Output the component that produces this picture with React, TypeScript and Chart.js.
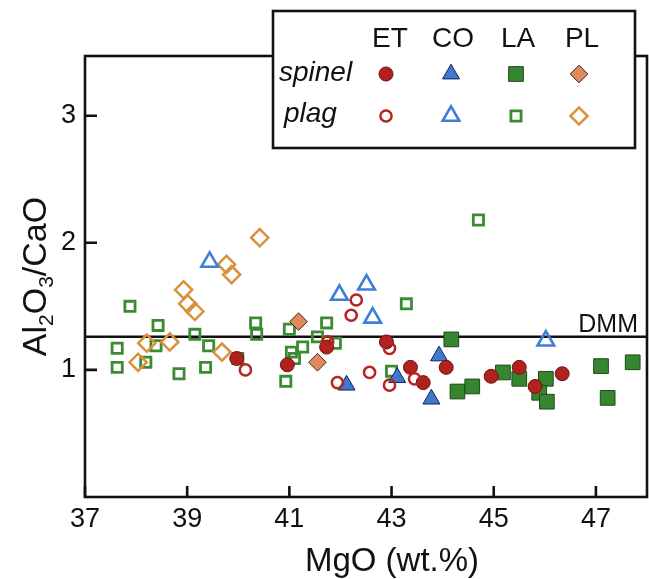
import React, { useEffect, useRef } from 'react';
import { Chart, registerables } from 'chart.js';

Chart.register(...registerables);

const FONT = "'Liberation Sans', Arial, Helvetica, sans-serif";

// ---- axes ----
const X_TICKS = [37, 39, 41, 43, 45, 47];
const Y_TICKS = [1, 2, 3];
const X_MIN = 37;
const X_MAX = 48;
const Y_MIN = 0;
const Y_MAX = 3.47;
const DMM_VALUE = 1.26;
const X_TITLE = 'MgO (wt.%)';

// ---- legend ----
const GROUPS = ['ET', 'CO', 'LA', 'PL'];
const ROWS = ['spinel', 'plag'];

// ---- data (MgO wt.% , Al2O3/CaO) ----
const etSpinelX = [39.97, 40.96, 41.73, 42.9, 43.37, 43.62, 44.07, 44.95, 45.5, 45.81, 46.34];
const etSpinelY = [1.09, 1.04, 1.18, 1.22, 1.02, 0.9, 1.02, 0.95, 1.02, 0.87, 0.97];

const etPlagX = [40.14, 41.75, 41.94, 42.21, 42.31, 42.57, 42.96, 42.96, 43.45];
const etPlagY = [1.0, 1.22, 0.9, 1.43, 1.55, 0.98, 1.17, 0.88, 0.93];

const coSpinelX = [42.12, 43.11, 43.93, 43.78];
const coSpinelY = [0.88, 0.94, 1.11, 0.77];

const coPlagX = [39.44, 41.98, 42.51, 42.63, 46.02];
const coPlagY = [1.85, 1.59, 1.67, 1.41, 1.23];

const laSpinelX = [44.17, 44.29, 44.58, 45.18, 45.5, 46.02, 45.89, 46.04, 47.1, 47.72, 47.23];
const laSpinelY = [1.24, 0.83, 0.87, 0.98, 0.93, 0.93, 0.82, 0.75, 1.03, 1.06, 0.78];

const laPlagX = [37.63, 37.63, 37.88, 38.43, 38.39, 38.19, 38.84, 39.15, 39.42, 39.36, 39.99, 40.34, 40.36, 41.0, 41.73, 41.55, 41.9, 41.04, 41.26, 41.1, 40.93, 43.29, 44.7, 43.0];
const laPlagY = [1.17, 1.02, 1.5, 1.35, 1.19, 1.06, 0.97, 1.28, 1.19, 1.02, 1.09, 1.37, 1.28, 1.32, 1.37, 1.26, 1.21, 1.14, 1.18, 1.09, 0.91, 1.52, 2.18, 0.99];

const plSpinelX = [41.18, 41.55];
const plSpinelY = [1.38, 1.06];

const plPlagX = [40.42, 39.77, 39.87, 38.93, 39.01, 39.15, 38.21, 38.66, 38.04, 39.68];
const plPlagY = [2.04, 1.83, 1.75, 1.63, 1.52, 1.46, 1.21, 1.22, 1.06, 1.14];

type Series = {
  label: string;
  group: number;
  row: number;
  xs: number[];
  ys: number[];
  style: 'circle' | 'triangle' | 'rect' | 'rectRot';
  filled: boolean;
  color: string;
  border: string;
  radius: number;
  bw: number;
};

// listed bottom -> top in drawing order
const SERIES: Series[] = [
  { label: 'LA plag', group: 2, row: 1, xs: laPlagX, ys: laPlagY, style: 'rect', filled: false, color: '#3c8b34', border: '#3c8b34', radius: 7.2, bw: 2.8 },
  { label: 'PL plag', group: 3, row: 1, xs: plPlagX, ys: plPlagY, style: 'rectRot', filled: false, color: '#da913c', border: '#da913c', radius: 8.6, bw: 2.5 },
  { label: 'CO plag', group: 1, row: 1, xs: coPlagX, ys: coPlagY, style: 'triangle', filled: false, color: '#3f7ddb', border: '#3f7ddb', radius: 9.6, bw: 2.6 },
  { label: 'LA spinel', group: 2, row: 0, xs: laSpinelX, ys: laSpinelY, style: 'rect', filled: true, color: '#37862f', border: '#1e4a19', radius: 10.4, bw: 1 },
  { label: 'PL spinel', group: 3, row: 0, xs: plSpinelX, ys: plSpinelY, style: 'rectRot', filled: true, color: '#e0895a', border: '#3b2a22', radius: 8.8, bw: 1 },
  { label: 'CO spinel', group: 1, row: 0, xs: coSpinelX, ys: coSpinelY, style: 'triangle', filled: true, color: '#3f77d3', border: '#132550', radius: 9.8, bw: 1 },
  { label: 'ET spinel', group: 0, row: 0, xs: etSpinelX, ys: etSpinelY, style: 'circle', filled: true, color: '#b1211e', border: '#701212', radius: 7, bw: 1 },
  { label: 'ET plag', group: 0, row: 1, xs: etPlagX, ys: etPlagY, style: 'circle', filled: false, color: '#b52420', border: '#b52420', radius: 5.6, bw: 2.5 },
];

function drawMarker(ctx: CanvasRenderingContext2D, s: Series, x: number, y: number) {
  const r = s.radius;
  ctx.beginPath();
  if (s.style === 'circle') {
    ctx.arc(x, y, r, 0, Math.PI * 2);
  } else if (s.style === 'rect') {
    const h = r * Math.SQRT1_2;
    ctx.rect(x - h, y - h, 2 * h, 2 * h);
  } else if (s.style === 'triangle') {
    const a = (2 * Math.PI) / 3;
    ctx.moveTo(x, y - r);
    ctx.lineTo(x + Math.sin(a) * r, y - Math.cos(a) * r);
    ctx.lineTo(x + Math.sin(2 * a) * r, y - Math.cos(2 * a) * r);
    ctx.closePath();
  } else {
    ctx.moveTo(x - r, y);
    ctx.lineTo(x, y - r);
    ctx.lineTo(x + r, y);
    ctx.lineTo(x, y + r);
    ctx.closePath();
  }
  if (s.filled) {
    ctx.fillStyle = s.color;
    ctx.fill();
  }
  ctx.lineWidth = s.bw;
  ctx.strokeStyle = s.border;
  ctx.stroke();
}

const decorPlugin = {
  id: 'decor',
  beforeDatasetsDraw(chart: any) {
    const { ctx, chartArea } = chart;
    const ys = chart.scales.y;
    const yy = ys.getPixelForValue(DMM_VALUE);
    ctx.save();
    ctx.strokeStyle = '#111';
    ctx.lineWidth = 2.5;
    ctx.beginPath();
    ctx.moveTo(chartArea.left, yy);
    ctx.lineTo(chartArea.right, yy);
    ctx.stroke();
    ctx.fillStyle = '#111';
    ctx.font = `25px ${FONT}`;
    ctx.textAlign = 'right';
    ctx.textBaseline = 'alphabetic';
    ctx.fillText('DMM', chartArea.right - 9, yy - 5);
    ctx.restore();
  },
  afterDatasetsDraw(chart: any) {
    const { ctx, chartArea } = chart;
    const xs = chart.scales.x;
    const ys = chart.scales.y;
    ctx.save();
    ctx.strokeStyle = '#111';
    ctx.lineWidth = 2.6;
    ctx.strokeRect(chartArea.left, chartArea.top, chartArea.right - chartArea.left, chartArea.bottom - chartArea.top);
    ctx.beginPath();
    for (const v of X_TICKS) {
      const px = xs.getPixelForValue(v);
      ctx.moveTo(px, chartArea.bottom);
      ctx.lineTo(px, chartArea.bottom - 11);
    }
    for (const v of Y_TICKS) {
      const py = ys.getPixelForValue(v);
      ctx.moveTo(chartArea.left, py);
      ctx.lineTo(chartArea.left + 12, py);
    }
    ctx.stroke();

    // x axis title
    ctx.fillStyle = '#111';
    ctx.font = `33px ${FONT}`;
    ctx.textAlign = 'center';
    ctx.textBaseline = 'alphabetic';
    ctx.fillText(X_TITLE, 392, 571);

    // y axis title with subscripts
    const parts: [string, boolean][] = [['Al', false], ['2', true], ['O', false], ['3', true], ['/CaO', false]];
    const big = `34px ${FONT}`;
    const small = `21px ${FONT}`;
    let total = 0;
    for (const [t, sub] of parts) {
      ctx.font = sub ? small : big;
      total += ctx.measureText(t).width;
    }
    ctx.translate(34, (chartArea.top + chartArea.bottom) / 2);
    ctx.rotate(-Math.PI / 2);
    ctx.textAlign = 'left';
    let x = -total / 2;
    for (const [t, sub] of parts) {
      ctx.font = sub ? small : big;
      ctx.fillText(t, x, sub ? 19 : 12);
      x += ctx.measureText(t).width;
    }
    ctx.restore();
  },
  afterDraw(chart: any) {
    const { ctx } = chart;
    ctx.save();
    // legend box
    const bx = 273, by = 11, bw = 362, bh = 137;
    ctx.fillStyle = '#fff';
    ctx.fillRect(bx, by, bw, bh);
    ctx.strokeStyle = '#111';
    ctx.lineWidth = 2.6;
    ctx.strokeRect(bx, by, bw, bh);
    const colX = [386, 451, 516, 579];
    const rowY = [74, 116];
    ctx.fillStyle = '#111';
    ctx.font = `28px ${FONT}`;
    ctx.textAlign = 'center';
    ctx.textBaseline = 'alphabetic';
    const headX = [390, 453, 518, 582];
    GROUPS.forEach((g, i) => ctx.fillText(g, headX[i], 47));
    ctx.font = `italic 28px ${FONT}`;
    ctx.textAlign = 'left';
    ctx.fillText(ROWS[0], 279, 81);
    ctx.fillText(ROWS[1], 284, 122);
    for (const s of SERIES) {
      drawMarker(ctx, s, colX[s.group], rowY[s.row]);
    }
    ctx.restore();
  },
};

export default function App() {
  const ref = useRef<HTMLCanvasElement>(null);
  useEffect(() => {
    document.body.style.margin = '0';
    const canvas = ref.current;
    if (!canvas) return;
    const n = SERIES.length;
    const chart = new Chart(canvas, {
      type: 'scatter',
      data: {
        datasets: SERIES.map((s, i) => ({
          label: s.label,
          data: s.xs.map((x, k) => ({ x, y: s.ys[k] })),
          order: n - 1 - i,
          pointStyle: s.style,
          pointRadius: s.radius,
          pointHoverRadius: s.radius,
          pointBackgroundColor: s.filled ? s.color : 'rgba(0,0,0,0)',
          pointBorderColor: s.border,
          pointBorderWidth: s.bw,
          pointHoverBorderWidth: s.bw,
          showLine: false,
          clip: false,
        })),
      },
      options: {
        animation: false,
        responsive: false,
        devicePixelRatio: 1,
        events: [],
        layout: { autoPadding: false, padding: { top: 56, right: 2, left: 0, bottom: 0 } },
        plugins: {
          legend: { display: false },
          tooltip: { enabled: false },
        },
        scales: {
          x: {
            type: 'linear',
            min: X_MIN,
            max: X_MAX,
            grid: { display: false, drawTicks: false },
            border: { display: false },
            afterBuildTicks: (s: any) => {
              s.ticks = X_TICKS.map((v) => ({ value: v }));
            },
            afterFit: (s: any) => {
              s.height = 82;
              s.paddingLeft = 0;
              s.paddingRight = 0;
            },
            ticks: {
              color: '#111',
              font: { family: FONT, size: 27 },
              padding: 6,
              maxRotation: 0,
              autoSkip: false,
            },
          },
          y: {
            type: 'linear',
            min: Y_MIN,
            max: Y_MAX,
            grid: { display: false, drawTicks: false },
            border: { display: false },
            afterBuildTicks: (s: any) => {
              s.ticks = Y_TICKS.map((v) => ({ value: v }));
            },
            afterFit: (s: any) => {
              s.width = 85;
              s.paddingTop = 0;
              s.paddingBottom = 0;
            },
            ticks: {
              color: '#111',
              font: { family: FONT, size: 27 },
              padding: 9,
              autoSkip: false,
            },
          },
        },
      },
      plugins: [decorPlugin],
    } as any);
    return () => chart.destroy();
  }, []);
  return <canvas ref={ref} width={649} height={579} style={{ display: 'block' }} />;
}
